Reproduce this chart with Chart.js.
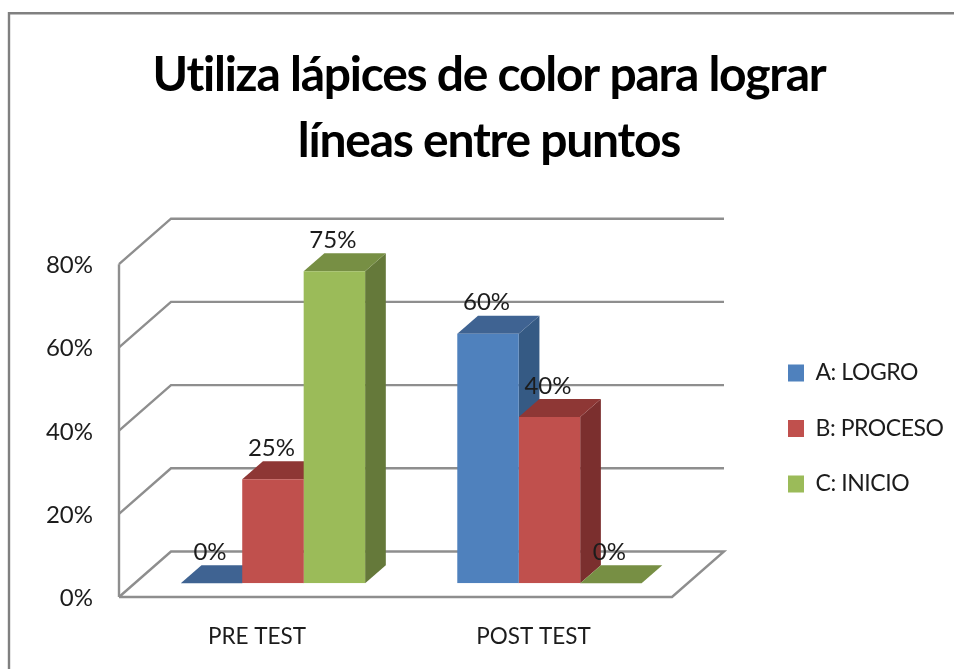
<!DOCTYPE html>
<html><head><meta charset="utf-8">
<style>html,body{margin:0;padding:0;background:#fff}canvas{display:block;filter:blur(0.45px)}</style>
<script src="https://cdn.jsdelivr.net/npm/chart.js@4"></script>
</head><body><canvas id="c" width="954" height="669"></canvas>
<script>
const categories = ['PRE TEST', 'POST TEST'];
const logro = [0, 60];
const proceso = [25, 40];
const inicio = [75, 0];
const seriesNames = ['A: LOGRO', 'B: PROCESO', 'C: INICIO'];
const titleLines = ['Utiliza lápices de color para lograr', 'líneas entre puntos'];

const FAMILY = 'Lato, Carlito, Calibri, sans-serif';
const TEXT = '#1c1c1c';
const GRID = '#8e8e8e';
const AREA = {left: 134.7, right: 687.7, top: 250.5, bottom: 583.3};
const FLOOR_FRONT = {x: -15.7, y: 13.7};   // front edge of the floor relative to the bar plane
const FLOOR_DEPTH = {x: 52, y: -45.5};     // full depth of the floor
const BAR_DEPTH = {x: 20.7, y: -18};
const SHADES = [
  {top: '#3F6392', side: '#355A84'},
  {top: '#8E3735', side: '#7B2F2E'},
  {top: '#778F44', side: '#65793A'}
];

function poly(ctx, pts, fill) {
  ctx.beginPath();
  pts.forEach((p, i) => i ? ctx.lineTo(p[0], p[1]) : ctx.moveTo(p[0], p[1]));
  ctx.closePath();
  ctx.fillStyle = fill;
  ctx.fill();
}

// Draw a layout box with tighter letter spacing (the original face is narrower).
function tighten(box, ctx, spacing) {
  if (box._tight) return;
  const draw = box.draw.bind(box);
  box.draw = function (a) {
    ctx.letterSpacing = spacing;
    draw(a);
    ctx.letterSpacing = '0px';
  };
  box._tight = true;
}

const scene3d = {
  id: 'scene3d',
  beforeLayout(chart) {
    const lg = chart.legend;
    if (lg && !lg._wrapped) {
      const fit = lg.fit.bind(lg);
      lg.fit = function () { fit(); this.width = 954 - AREA.right; };
      lg._wrapped = true;
    }
    tighten(lg, chart.ctx, '-0.45px');
    tighten(chart.titleBlock, chart.ctx, '-1.25px');
  },
  afterLayout(chart) {
    const lg = chart.legend;
    lg.left = 755.5; lg.right = 954;
    lg.top = 249; lg.bottom = 608;
    chart.titleBlock.left += 12;
    chart.titleBlock.right += 12;
  },
  beforeDraw(chart) {
    const ctx = chart.ctx;
    ctx.save();
    ctx.strokeStyle = '#808080';
    ctx.lineWidth = 2.4;
    ctx.beginPath();
    ctx.moveTo(9, 669); ctx.lineTo(9, 13.2); ctx.lineTo(954, 13.2);
    ctx.stroke();
    ctx.restore();
  },
  beforeDatasetsDraw(chart) {
    const ctx = chart.ctx, y = chart.scales.y, a = chart.chartArea;
    const fl = a.left + FLOOR_FRONT.x, fr = a.right + FLOOR_FRONT.x;
    ctx.save();
    ctx.strokeStyle = GRID;
    ctx.lineWidth = 2.4;
    ctx.lineJoin = 'miter';
    y.ticks.forEach(t => {
      const fy = y.getPixelForValue(t.value) + FLOOR_FRONT.y;
      ctx.beginPath();
      ctx.moveTo(fl, fy);
      ctx.lineTo(fl + FLOOR_DEPTH.x, fy + FLOOR_DEPTH.y);
      ctx.lineTo(fr + FLOOR_DEPTH.x, fy + FLOOR_DEPTH.y);
      if (t.value === 0) { ctx.lineTo(fr, fy); ctx.lineTo(fl, fy); }
      ctx.stroke();
    });
    ctx.beginPath();
    ctx.moveTo(fl, y.getPixelForValue(y.max) + FLOOR_FRONT.y);
    ctx.lineTo(fl, y.getPixelForValue(0) + FLOOR_FRONT.y);
    ctx.stroke();
    // depth faces of every bar, from the bar elements placed by the library
    const dx = BAR_DEPTH.x, dy = BAR_DEPTH.y;
    categories.forEach((_, j) => {
      chart.data.datasets.forEach((ds, i) => {
        const bar = chart.getDatasetMeta(i).data[j];
        const L = bar.x - bar.width / 2, R = bar.x + bar.width / 2;
        const T = bar.y, B = bar.base;
        poly(ctx, [[R, T], [R + dx, T + dy], [R + dx, B + dy], [R, B]], SHADES[i].side);
        poly(ctx, [[L, T], [L + dx, T + dy], [R + dx, T + dy], [R, T]], SHADES[i].top);
      });
    });
    ctx.restore();
  },
  afterDatasetsDraw(chart) {
    const ctx = chart.ctx;
    ctx.save();
    ctx.font = '24px ' + FAMILY;
    ctx.fillStyle = TEXT;
    ctx.textAlign = 'center';
    ctx.textBaseline = 'middle';
    chart.data.datasets.forEach((ds, i) => {
      chart.getDatasetMeta(i).data.forEach((bar, j) => {
        ctx.fillText(ds.data[j] + '%', bar.x - 1.5, bar.y - 31);
      });
    });
    ctx.restore();
  }
};

new Chart(document.getElementById('c'), {
  type: 'bar',
  data: {
    labels: categories,
    datasets: [
      {label: seriesNames[0], data: logro, backgroundColor: '#4F81BD'},
      {label: seriesNames[1], data: proceso, backgroundColor: '#C0504D'},
      {label: seriesNames[2], data: inicio, backgroundColor: '#9BBB59'}
    ]
  },
  plugins: [scene3d],
  options: {
    responsive: false,
    animation: false,
    layout: {padding: 0},
    datasets: {bar: {categoryPercentage: 2 / 3, barPercentage: 1, borderWidth: 0}},
    plugins: {
      tooltip: {enabled: false},
      title: {
        display: true,
        text: titleLines,
        color: '#000',
        font: {family: FAMILY, size: 48, weight: 'bold', lineHeight: 1.375},
        padding: {top: 43, bottom: 75.5}
      },
      legend: {
        position: 'right',
        labels: {
          boxWidth: 16, boxHeight: 17, padding: 32.5,
          color: TEXT,
          font: {family: FAMILY, size: 23}
        }
      }
    },
    scales: {
      x: {
        grid: {display: false, drawTicks: false},
        border: {display: false},
        ticks: {color: TEXT, font: {family: FAMILY, size: 22.5}, padding: 40, labelOffset: -16, maxRotation: 0},
        afterFit(s) { s.height = 669 - AREA.bottom; }
      },
      y: {
        min: 0, max: 80,
        grid: {display: false, drawTicks: false},
        border: {display: false},
        ticks: {stepSize: 20, color: TEXT, font: {family: FAMILY, size: 24}, padding: 41.7, labelOffset: 15,
          callback: v => v + '%'},
        afterFit(s) { s.width = AREA.left; }
      }
    }
  }
});
</script></body></html>
